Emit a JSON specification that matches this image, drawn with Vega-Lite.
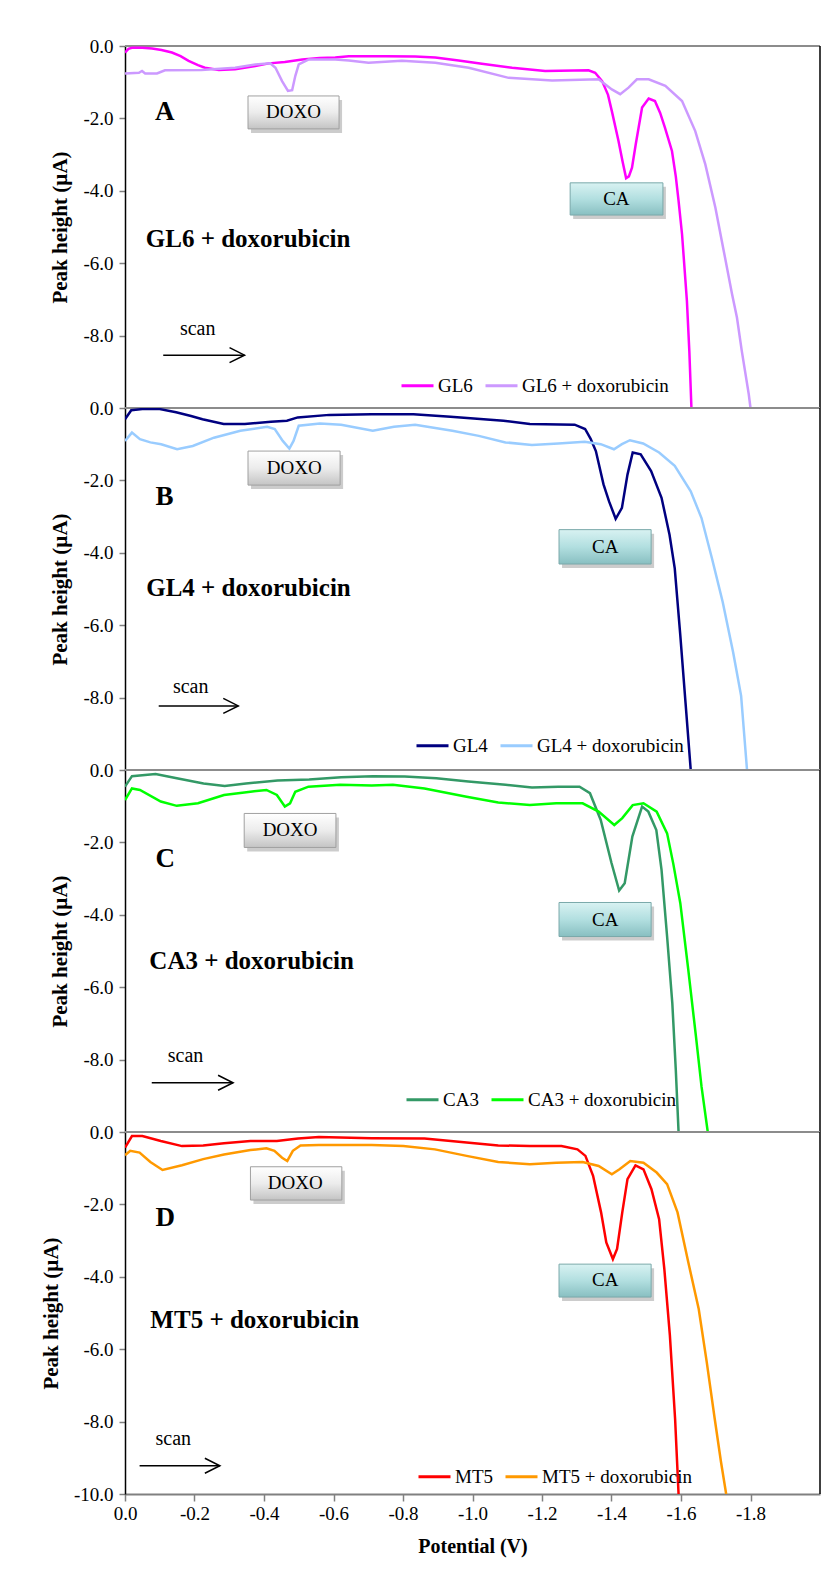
{
"$schema": "https://vega.github.io/schema/vega-lite/v6.json",
"background": "white",
"padding": {"left": 40, "top": 37, "right": 5, "bottom": 20},
"spacing": 0,
"bounds": "flush",
"config": {"font": "Liberation Serif", "view": {"stroke": null},
 "axis": {"labelFont": "Liberation Serif", "titleFont": "Liberation Serif", "labelFontSize": 19, "titleFontSize": 19, "labelColor": "black", "titleColor": "black", "titleFontWeight": "bold", "grid": false, "labelFlush": false},
 "legend": {"labelFont": "Liberation Serif", "labelFontSize": 19, "labelColor": "black"}},
"datasets": {
"frame": [{"p":"A","top":0,"right":-2},{"p":"B","top":0,"right":-2},{"p":"C","top":0,"right":-2},{"p":"D","top":0,"right":-2}],
"boxes": [
{"p":"A","label":"DOXO","x1":-0.354,"x2":-0.616,"y1":-1.38,"y2":-2.29,"xc":-0.485,"yc":-1.835},
{"p":"A","label":"CA","x1":-1.281,"x2":-1.548,"y1":-3.78,"y2":-4.67,"xc":-1.414,"yc":-4.225},
{"p":"B","label":"DOXO","x1":-0.354,"x2":-0.619,"y1":-1.19,"y2":-2.13,"xc":-0.487,"yc":-1.66},
{"p":"B","label":"CA","x1":-1.249,"x2":-1.514,"y1":-3.36,"y2":-4.31,"xc":-1.382,"yc":-3.835},
{"p":"C","label":"DOXO","x1":-0.343,"x2":-0.607,"y1":-1.2,"y2":-2.14,"xc":-0.475,"yc":-1.67},
{"p":"C","label":"CA","x1":-1.249,"x2":-1.514,"y1":-3.66,"y2":-4.6,"xc":-1.382,"yc":-4.13},
{"p":"D","label":"DOXO","x1":-0.361,"x2":-0.624,"y1":-0.96,"y2":-1.88,"xc":-0.49,"yc":-1.42},
{"p":"D","label":"CA","x1":-1.249,"x2":-1.514,"y1":-3.65,"y2":-4.56,"xc":-1.382,"yc":-4.1}
],
"texts": [
{"p":"A","role":"letter","t":"A","x":-0.086,"y":-2.04},
{"p":"A","role":"title","t":"GL6 + doxorubicin","x":-0.06,"y":-5.55},
{"p":"A","role":"scan","t":"scan","x":-0.158,"y":-7.98},
{"p":"B","role":"letter","t":"B","x":-0.088,"y":-2.67},
{"p":"B","role":"title","t":"GL4 + doxorubicin","x":-0.061,"y":-5.19},
{"p":"B","role":"scan","t":"scan","x":-0.138,"y":-7.88},
{"p":"C","role":"letter","t":"C","x":-0.088,"y":-2.67},
{"p":"C","role":"title","t":"CA3 + doxorubicin","x":-0.07,"y":-5.5},
{"p":"C","role":"scan","t":"scan","x":-0.123,"y":-8.07},
{"p":"D","role":"letter","t":"D","x":-0.088,"y":-2.59},
{"p":"D","role":"title","t":"MT5 + doxorubicin","x":-0.073,"y":-5.42},
{"p":"D","role":"scan","t":"scan","x":-0.088,"y":-8.65}
],
"arrows": [
{"p":"A","x1":-0.11,"x2":-0.344,"y":-8.54},
{"p":"B","x1":-0.097,"x2":-0.326,"y":-8.23},
{"p":"C","x1":-0.077,"x2":-0.311,"y":-8.64},
{"p":"D","x1":-0.042,"x2":-0.273,"y":-9.22}
],
"curves": [
{"p":"A","s":"GL6","v":0,"i":-0.18},{"p":"A","s":"GL6","v":-0.01,"i":-0.08},{"p":"A","s":"GL6","v":-0.02,"i":-0.05},{"p":"A","s":"GL6","v":-0.05,"i":-0.05},{"p":"A","s":"GL6","v":-0.078,"i":-0.07},{"p":"A","s":"GL6","v":-0.105,"i":-0.11},{"p":"A","s":"GL6","v":-0.135,"i":-0.18},{"p":"A","s":"GL6","v":-0.16,"i":-0.28},{"p":"A","s":"GL6","v":-0.183,"i":-0.41},{"p":"A","s":"GL6","v":-0.21,"i":-0.53},{"p":"A","s":"GL6","v":-0.23,"i":-0.6},{"p":"A","s":"GL6","v":-0.27,"i":-0.66},{"p":"A","s":"GL6","v":-0.317,"i":-0.64},{"p":"A","s":"GL6","v":-0.375,"i":-0.55},{"p":"A","s":"GL6","v":-0.414,"i":-0.48},{"p":"A","s":"GL6","v":-0.46,"i":-0.44},{"p":"A","s":"GL6","v":-0.51,"i":-0.37},{"p":"A","s":"GL6","v":-0.56,"i":-0.33},{"p":"A","s":"GL6","v":-0.605,"i":-0.32},{"p":"A","s":"GL6","v":-0.644,"i":-0.28},{"p":"A","s":"GL6","v":-0.75,"i":-0.28},{"p":"A","s":"GL6","v":-0.835,"i":-0.29},{"p":"A","s":"GL6","v":-0.893,"i":-0.32},{"p":"A","s":"GL6","v":-0.96,"i":-0.4},{"p":"A","s":"GL6","v":-1.027,"i":-0.49},{"p":"A","s":"GL6","v":-1.114,"i":-0.6},{"p":"A","s":"GL6","v":-1.209,"i":-0.69},{"p":"A","s":"GL6","v":-1.334,"i":-0.67},{"p":"A","s":"GL6","v":-1.353,"i":-0.74},{"p":"A","s":"GL6","v":-1.373,"i":-0.97},{"p":"A","s":"GL6","v":-1.39,"i":-1.35},{"p":"A","s":"GL6","v":-1.401,"i":-1.8},{"p":"A","s":"GL6","v":-1.42,"i":-2.62},{"p":"A","s":"GL6","v":-1.432,"i":-3.2},{"p":"A","s":"GL6","v":-1.442,"i":-3.65},{"p":"A","s":"GL6","v":-1.45,"i":-3.6},{"p":"A","s":"GL6","v":-1.459,"i":-3.36},{"p":"A","s":"GL6","v":-1.47,"i":-2.7},{"p":"A","s":"GL6","v":-1.488,"i":-1.7},{"p":"A","s":"GL6","v":-1.507,"i":-1.45},{"p":"A","s":"GL6","v":-1.525,"i":-1.52},{"p":"A","s":"GL6","v":-1.54,"i":-1.85},{"p":"A","s":"GL6","v":-1.554,"i":-2.26},{"p":"A","s":"GL6","v":-1.574,"i":-2.9},{"p":"A","s":"GL6","v":-1.585,"i":-3.6},{"p":"A","s":"GL6","v":-1.593,"i":-4.28},{"p":"A","s":"GL6","v":-1.603,"i":-5.2},{"p":"A","s":"GL6","v":-1.617,"i":-7.04},{"p":"A","s":"GL6","v":-1.624,"i":-8.43},{"p":"A","s":"GL6","v":-1.63,"i":-10.0},
{"p":"A","s":"GL6 + doxorubicin","v":0,"i":-0.76},{"p":"A","s":"GL6 + doxorubicin","v":-0.04,"i":-0.74},{"p":"A","s":"GL6 + doxorubicin","v":-0.049,"i":-0.69},{"p":"A","s":"GL6 + doxorubicin","v":-0.058,"i":-0.76},{"p":"A","s":"GL6 + doxorubicin","v":-0.092,"i":-0.76},{"p":"A","s":"GL6 + doxorubicin","v":-0.115,"i":-0.67},{"p":"A","s":"GL6 + doxorubicin","v":-0.22,"i":-0.66},{"p":"A","s":"GL6 + doxorubicin","v":-0.317,"i":-0.6},{"p":"A","s":"GL6 + doxorubicin","v":-0.375,"i":-0.51},{"p":"A","s":"GL6 + doxorubicin","v":-0.418,"i":-0.48},{"p":"A","s":"GL6 + doxorubicin","v":-0.433,"i":-0.6},{"p":"A","s":"GL6 + doxorubicin","v":-0.452,"i":-0.97},{"p":"A","s":"GL6 + doxorubicin","v":-0.469,"i":-1.24},{"p":"A","s":"GL6 + doxorubicin","v":-0.481,"i":-1.22},{"p":"A","s":"GL6 + doxorubicin","v":-0.49,"i":-0.83},{"p":"A","s":"GL6 + doxorubicin","v":-0.5,"i":-0.51},{"p":"A","s":"GL6 + doxorubicin","v":-0.529,"i":-0.37},{"p":"A","s":"GL6 + doxorubicin","v":-0.605,"i":-0.37},{"p":"A","s":"GL6 + doxorubicin","v":-0.644,"i":-0.4},{"p":"A","s":"GL6 + doxorubicin","v":-0.701,"i":-0.46},{"p":"A","s":"GL6 + doxorubicin","v":-0.797,"i":-0.41},{"p":"A","s":"GL6 + doxorubicin","v":-0.893,"i":-0.46},{"p":"A","s":"GL6 + doxorubicin","v":-0.989,"i":-0.6},{"p":"A","s":"GL6 + doxorubicin","v":-1.104,"i":-0.88},{"p":"A","s":"GL6 + doxorubicin","v":-1.229,"i":-0.95},{"p":"A","s":"GL6 + doxorubicin","v":-1.363,"i":-0.92},{"p":"A","s":"GL6 + doxorubicin","v":-1.401,"i":-1.2},{"p":"A","s":"GL6 + doxorubicin","v":-1.425,"i":-1.33},{"p":"A","s":"GL6 + doxorubicin","v":-1.449,"i":-1.15},{"p":"A","s":"GL6 + doxorubicin","v":-1.473,"i":-0.92},{"p":"A","s":"GL6 + doxorubicin","v":-1.507,"i":-0.92},{"p":"A","s":"GL6 + doxorubicin","v":-1.555,"i":-1.1},{"p":"A","s":"GL6 + doxorubicin","v":-1.603,"i":-1.52},{"p":"A","s":"GL6 + doxorubicin","v":-1.641,"i":-2.35},{"p":"A","s":"GL6 + doxorubicin","v":-1.67,"i":-3.27},{"p":"A","s":"GL6 + doxorubicin","v":-1.699,"i":-4.47},{"p":"A","s":"GL6 + doxorubicin","v":-1.723,"i":-5.66},{"p":"A","s":"GL6 + doxorubicin","v":-1.747,"i":-6.86},{"p":"A","s":"GL6 + doxorubicin","v":-1.761,"i":-7.5},{"p":"A","s":"GL6 + doxorubicin","v":-1.775,"i":-8.43},{"p":"A","s":"GL6 + doxorubicin","v":-1.795,"i":-9.62},{"p":"A","s":"GL6 + doxorubicin","v":-1.8,"i":-10.0},
{"p":"B","s":"GL4","v":0,"i":-0.31},{"p":"B","s":"GL4","v":-0.018,"i":-0.06},{"p":"B","s":"GL4","v":-0.05,"i":-0.03},{"p":"B","s":"GL4","v":-0.1,"i":-0.03},{"p":"B","s":"GL4","v":-0.147,"i":-0.12},{"p":"B","s":"GL4","v":-0.19,"i":-0.22},{"p":"B","s":"GL4","v":-0.223,"i":-0.31},{"p":"B","s":"GL4","v":-0.284,"i":-0.44},{"p":"B","s":"GL4","v":-0.345,"i":-0.44},{"p":"B","s":"GL4","v":-0.42,"i":-0.38},{"p":"B","s":"GL4","v":-0.466,"i":-0.35},{"p":"B","s":"GL4","v":-0.497,"i":-0.26},{"p":"B","s":"GL4","v":-0.588,"i":-0.19},{"p":"B","s":"GL4","v":-0.709,"i":-0.17},{"p":"B","s":"GL4","v":-0.83,"i":-0.17},{"p":"B","s":"GL4","v":-0.937,"i":-0.24},{"p":"B","s":"GL4","v":-1.089,"i":-0.35},{"p":"B","s":"GL4","v":-1.165,"i":-0.44},{"p":"B","s":"GL4","v":-1.294,"i":-0.46},{"p":"B","s":"GL4","v":-1.324,"i":-0.58},{"p":"B","s":"GL4","v":-1.34,"i":-0.85},{"p":"B","s":"GL4","v":-1.355,"i":-1.19},{"p":"B","s":"GL4","v":-1.377,"i":-2.11},{"p":"B","s":"GL4","v":-1.393,"i":-2.58},{"p":"B","s":"GL4","v":-1.412,"i":-3.06},{"p":"B","s":"GL4","v":-1.43,"i":-2.76},{"p":"B","s":"GL4","v":-1.446,"i":-1.84},{"p":"B","s":"GL4","v":-1.461,"i":-1.23},{"p":"B","s":"GL4","v":-1.484,"i":-1.28},{"p":"B","s":"GL4","v":-1.514,"i":-1.74},{"p":"B","s":"GL4","v":-1.544,"i":-2.48},{"p":"B","s":"GL4","v":-1.567,"i":-3.5},{"p":"B","s":"GL4","v":-1.582,"i":-4.43},{"p":"B","s":"GL4","v":-1.598,"i":-6.28},{"p":"B","s":"GL4","v":-1.613,"i":-8.14},{"p":"B","s":"GL4","v":-1.628,"i":-10.0},
{"p":"B","s":"GL4 + doxorubicin","v":0,"i":-0.91},{"p":"B","s":"GL4 + doxorubicin","v":-0.02,"i":-0.68},{"p":"B","s":"GL4 + doxorubicin","v":-0.043,"i":-0.86},{"p":"B","s":"GL4 + doxorubicin","v":-0.073,"i":-0.95},{"p":"B","s":"GL4 + doxorubicin","v":-0.104,"i":-1.0},{"p":"B","s":"GL4 + doxorubicin","v":-0.15,"i":-1.14},{"p":"B","s":"GL4 + doxorubicin","v":-0.195,"i":-1.05},{"p":"B","s":"GL4 + doxorubicin","v":-0.256,"i":-0.82},{"p":"B","s":"GL4 + doxorubicin","v":-0.332,"i":-0.63},{"p":"B","s":"GL4 + doxorubicin","v":-0.409,"i":-0.52},{"p":"B","s":"GL4 + doxorubicin","v":-0.431,"i":-0.58},{"p":"B","s":"GL4 + doxorubicin","v":-0.454,"i":-0.91},{"p":"B","s":"GL4 + doxorubicin","v":-0.473,"i":-1.12},{"p":"B","s":"GL4 + doxorubicin","v":-0.485,"i":-0.91},{"p":"B","s":"GL4 + doxorubicin","v":-0.5,"i":-0.49},{"p":"B","s":"GL4 + doxorubicin","v":-0.561,"i":-0.43},{"p":"B","s":"GL4 + doxorubicin","v":-0.622,"i":-0.46},{"p":"B","s":"GL4 + doxorubicin","v":-0.713,"i":-0.63},{"p":"B","s":"GL4 + doxorubicin","v":-0.774,"i":-0.52},{"p":"B","s":"GL4 + doxorubicin","v":-0.835,"i":-0.46},{"p":"B","s":"GL4 + doxorubicin","v":-0.942,"i":-0.63},{"p":"B","s":"GL4 + doxorubicin","v":-1.018,"i":-0.77},{"p":"B","s":"GL4 + doxorubicin","v":-1.095,"i":-0.95},{"p":"B","s":"GL4 + doxorubicin","v":-1.171,"i":-1.02},{"p":"B","s":"GL4 + doxorubicin","v":-1.247,"i":-0.98},{"p":"B","s":"GL4 + doxorubicin","v":-1.323,"i":-0.93},{"p":"B","s":"GL4 + doxorubicin","v":-1.369,"i":-1.0},{"p":"B","s":"GL4 + doxorubicin","v":-1.407,"i":-1.14},{"p":"B","s":"GL4 + doxorubicin","v":-1.43,"i":-1.0},{"p":"B","s":"GL4 + doxorubicin","v":-1.453,"i":-0.89},{"p":"B","s":"GL4 + doxorubicin","v":-1.491,"i":-0.98},{"p":"B","s":"GL4 + doxorubicin","v":-1.537,"i":-1.23},{"p":"B","s":"GL4 + doxorubicin","v":-1.582,"i":-1.6},{"p":"B","s":"GL4 + doxorubicin","v":-1.628,"i":-2.3},{"p":"B","s":"GL4 + doxorubicin","v":-1.659,"i":-3.04},{"p":"B","s":"GL4 + doxorubicin","v":-1.689,"i":-4.15},{"p":"B","s":"GL4 + doxorubicin","v":-1.72,"i":-5.36},{"p":"B","s":"GL4 + doxorubicin","v":-1.75,"i":-6.75},{"p":"B","s":"GL4 + doxorubicin","v":-1.773,"i":-7.95},{"p":"B","s":"GL4 + doxorubicin","v":-1.79,"i":-10.0},
{"p":"C","s":"CA3","v":0,"i":-0.46},{"p":"C","s":"CA3","v":-0.02,"i":-0.17},{"p":"C","s":"CA3","v":-0.088,"i":-0.11},{"p":"C","s":"CA3","v":-0.149,"i":-0.23},{"p":"C","s":"CA3","v":-0.226,"i":-0.37},{"p":"C","s":"CA3","v":-0.287,"i":-0.44},{"p":"C","s":"CA3","v":-0.348,"i":-0.37},{"p":"C","s":"CA3","v":-0.439,"i":-0.29},{"p":"C","s":"CA3","v":-0.53,"i":-0.26},{"p":"C","s":"CA3","v":-0.622,"i":-0.2},{"p":"C","s":"CA3","v":-0.713,"i":-0.17},{"p":"C","s":"CA3","v":-0.805,"i":-0.18},{"p":"C","s":"CA3","v":-0.896,"i":-0.23},{"p":"C","s":"CA3","v":-0.988,"i":-0.32},{"p":"C","s":"CA3","v":-1.095,"i":-0.41},{"p":"C","s":"CA3","v":-1.171,"i":-0.48},{"p":"C","s":"CA3","v":-1.247,"i":-0.46},{"p":"C","s":"CA3","v":-1.308,"i":-0.46},{"p":"C","s":"CA3","v":-1.338,"i":-0.64},{"p":"C","s":"CA3","v":-1.369,"i":-1.38},{"p":"C","s":"CA3","v":-1.4,"i":-2.57},{"p":"C","s":"CA3","v":-1.422,"i":-3.33},{"p":"C","s":"CA3","v":-1.438,"i":-3.13},{"p":"C","s":"CA3","v":-1.46,"i":-1.84},{"p":"C","s":"CA3","v":-1.488,"i":-1.01},{"p":"C","s":"CA3","v":-1.506,"i":-1.15},{"p":"C","s":"CA3","v":-1.529,"i":-1.66},{"p":"C","s":"CA3","v":-1.544,"i":-2.76},{"p":"C","s":"CA3","v":-1.56,"i":-4.6},{"p":"C","s":"CA3","v":-1.575,"i":-6.44},{"p":"C","s":"CA3","v":-1.585,"i":-8.28},{"p":"C","s":"CA3","v":-1.593,"i":-10.0},
{"p":"C","s":"CA3 + doxorubicin","v":0,"i":-0.83},{"p":"C","s":"CA3 + doxorubicin","v":-0.02,"i":-0.51},{"p":"C","s":"CA3 + doxorubicin","v":-0.043,"i":-0.55},{"p":"C","s":"CA3 + doxorubicin","v":-0.103,"i":-0.87},{"p":"C","s":"CA3 + doxorubicin","v":-0.149,"i":-0.99},{"p":"C","s":"CA3 + doxorubicin","v":-0.21,"i":-0.92},{"p":"C","s":"CA3 + doxorubicin","v":-0.285,"i":-0.69},{"p":"C","s":"CA3 + doxorubicin","v":-0.361,"i":-0.6},{"p":"C","s":"CA3 + doxorubicin","v":-0.407,"i":-0.55},{"p":"C","s":"CA3 + doxorubicin","v":-0.437,"i":-0.69},{"p":"C","s":"CA3 + doxorubicin","v":-0.46,"i":-1.01},{"p":"C","s":"CA3 + doxorubicin","v":-0.475,"i":-0.92},{"p":"C","s":"CA3 + doxorubicin","v":-0.49,"i":-0.6},{"p":"C","s":"CA3 + doxorubicin","v":-0.528,"i":-0.46},{"p":"C","s":"CA3 + doxorubicin","v":-0.619,"i":-0.41},{"p":"C","s":"CA3 + doxorubicin","v":-0.71,"i":-0.43},{"p":"C","s":"CA3 + doxorubicin","v":-0.771,"i":-0.41},{"p":"C","s":"CA3 + doxorubicin","v":-0.862,"i":-0.51},{"p":"C","s":"CA3 + doxorubicin","v":-0.983,"i":-0.74},{"p":"C","s":"CA3 + doxorubicin","v":-1.074,"i":-0.9},{"p":"C","s":"CA3 + doxorubicin","v":-1.165,"i":-0.97},{"p":"C","s":"CA3 + doxorubicin","v":-1.241,"i":-0.92},{"p":"C","s":"CA3 + doxorubicin","v":-1.317,"i":-0.92},{"p":"C","s":"CA3 + doxorubicin","v":-1.363,"i":-1.15},{"p":"C","s":"CA3 + doxorubicin","v":-1.408,"i":-1.52},{"p":"C","s":"CA3 + doxorubicin","v":-1.431,"i":-1.33},{"p":"C","s":"CA3 + doxorubicin","v":-1.461,"i":-0.97},{"p":"C","s":"CA3 + doxorubicin","v":-1.492,"i":-0.92},{"p":"C","s":"CA3 + doxorubicin","v":-1.53,"i":-1.15},{"p":"C","s":"CA3 + doxorubicin","v":-1.56,"i":-1.75},{"p":"C","s":"CA3 + doxorubicin","v":-1.578,"i":-2.6},{"p":"C","s":"CA3 + doxorubicin","v":-1.598,"i":-3.68},{"p":"C","s":"CA3 + doxorubicin","v":-1.621,"i":-5.52},{"p":"C","s":"CA3 + doxorubicin","v":-1.643,"i":-7.36},{"p":"C","s":"CA3 + doxorubicin","v":-1.659,"i":-8.74},{"p":"C","s":"CA3 + doxorubicin","v":-1.677,"i":-10.0},
{"p":"D","s":"MT5","v":0,"i":-0.43},{"p":"D","s":"MT5","v":-0.02,"i":-0.11},{"p":"D","s":"MT5","v":-0.05,"i":-0.11},{"p":"D","s":"MT5","v":-0.103,"i":-0.25},{"p":"D","s":"MT5","v":-0.164,"i":-0.39},{"p":"D","s":"MT5","v":-0.225,"i":-0.37},{"p":"D","s":"MT5","v":-0.285,"i":-0.31},{"p":"D","s":"MT5","v":-0.361,"i":-0.25},{"p":"D","s":"MT5","v":-0.437,"i":-0.25},{"p":"D","s":"MT5","v":-0.498,"i":-0.18},{"p":"D","s":"MT5","v":-0.558,"i":-0.14},{"p":"D","s":"MT5","v":-0.71,"i":-0.17},{"p":"D","s":"MT5","v":-0.862,"i":-0.18},{"p":"D","s":"MT5","v":-0.983,"i":-0.29},{"p":"D","s":"MT5","v":-1.074,"i":-0.37},{"p":"D","s":"MT5","v":-1.165,"i":-0.39},{"p":"D","s":"MT5","v":-1.256,"i":-0.39},{"p":"D","s":"MT5","v":-1.302,"i":-0.48},{"p":"D","s":"MT5","v":-1.325,"i":-0.66},{"p":"D","s":"MT5","v":-1.347,"i":-1.21},{"p":"D","s":"MT5","v":-1.37,"i":-2.22},{"p":"D","s":"MT5","v":-1.385,"i":-3.05},{"p":"D","s":"MT5","v":-1.404,"i":-3.51},{"p":"D","s":"MT5","v":-1.416,"i":-3.23},{"p":"D","s":"MT5","v":-1.431,"i":-2.22},{"p":"D","s":"MT5","v":-1.446,"i":-1.3},{"p":"D","s":"MT5","v":-1.469,"i":-0.92},{"p":"D","s":"MT5","v":-1.492,"i":-1.03},{"p":"D","s":"MT5","v":-1.515,"i":-1.58},{"p":"D","s":"MT5","v":-1.537,"i":-2.41},{"p":"D","s":"MT5","v":-1.552,"i":-3.78},{"p":"D","s":"MT5","v":-1.568,"i":-5.62},{"p":"D","s":"MT5","v":-1.583,"i":-7.92},{"p":"D","s":"MT5","v":-1.593,"i":-10.0},
{"p":"D","s":"MT5 + doxorubicin","v":0,"i":-0.64},{"p":"D","s":"MT5 + doxorubicin","v":-0.015,"i":-0.52},{"p":"D","s":"MT5 + doxorubicin","v":-0.042,"i":-0.57},{"p":"D","s":"MT5 + doxorubicin","v":-0.073,"i":-0.83},{"p":"D","s":"MT5 + doxorubicin","v":-0.108,"i":-1.05},{"p":"D","s":"MT5 + doxorubicin","v":-0.164,"i":-0.92},{"p":"D","s":"MT5 + doxorubicin","v":-0.225,"i":-0.75},{"p":"D","s":"MT5 + doxorubicin","v":-0.285,"i":-0.62},{"p":"D","s":"MT5 + doxorubicin","v":-0.361,"i":-0.5},{"p":"D","s":"MT5 + doxorubicin","v":-0.407,"i":-0.45},{"p":"D","s":"MT5 + doxorubicin","v":-0.43,"i":-0.52},{"p":"D","s":"MT5 + doxorubicin","v":-0.452,"i":-0.71},{"p":"D","s":"MT5 + doxorubicin","v":-0.467,"i":-0.8},{"p":"D","s":"MT5 + doxorubicin","v":-0.483,"i":-0.52},{"p":"D","s":"MT5 + doxorubicin","v":-0.505,"i":-0.37},{"p":"D","s":"MT5 + doxorubicin","v":-0.558,"i":-0.36},{"p":"D","s":"MT5 + doxorubicin","v":-0.71,"i":-0.36},{"p":"D","s":"MT5 + doxorubicin","v":-0.801,"i":-0.39},{"p":"D","s":"MT5 + doxorubicin","v":-0.892,"i":-0.48},{"p":"D","s":"MT5 + doxorubicin","v":-0.983,"i":-0.66},{"p":"D","s":"MT5 + doxorubicin","v":-1.074,"i":-0.83},{"p":"D","s":"MT5 + doxorubicin","v":-1.165,"i":-0.89},{"p":"D","s":"MT5 + doxorubicin","v":-1.241,"i":-0.85},{"p":"D","s":"MT5 + doxorubicin","v":-1.317,"i":-0.83},{"p":"D","s":"MT5 + doxorubicin","v":-1.363,"i":-0.94},{"p":"D","s":"MT5 + doxorubicin","v":-1.401,"i":-1.17},{"p":"D","s":"MT5 + doxorubicin","v":-1.423,"i":-1.03},{"p":"D","s":"MT5 + doxorubicin","v":-1.454,"i":-0.8},{"p":"D","s":"MT5 + doxorubicin","v":-1.492,"i":-0.85},{"p":"D","s":"MT5 + doxorubicin","v":-1.53,"i":-1.12},{"p":"D","s":"MT5 + doxorubicin","v":-1.56,"i":-1.44},{"p":"D","s":"MT5 + doxorubicin","v":-1.59,"i":-2.22},{"p":"D","s":"MT5 + doxorubicin","v":-1.621,"i":-3.6},{"p":"D","s":"MT5 + doxorubicin","v":-1.651,"i":-4.89},{"p":"D","s":"MT5 + doxorubicin","v":-1.674,"i":-6.35},{"p":"D","s":"MT5 + doxorubicin","v":-1.697,"i":-7.92},{"p":"D","s":"MT5 + doxorubicin","v":-1.715,"i":-9.11},{"p":"D","s":"MT5 + doxorubicin","v":-1.73,"i":-10.0}
]
},
"resolve": {"scale": {"color": "independent"}, "legend": {"color": "independent"}},
"vconcat": [
{"width": 695, "height": 362, "layer": [
 {"data": {"name": "frame"}, "transform": [{"filter": "datum.p == 'A'"}], "mark": {"type": "rule", "color": "#8c8c8c", "strokeWidth": 2}, "encoding": {"y": {"field": "top", "type": "quantitative", "scale": {"domain": [-10, 0], "nice": false, "zero": false}}}},
 {"data": {"name": "frame"}, "transform": [{"filter": "datum.p == 'A'"}], "mark": {"type": "rule", "color": "#000000", "strokeWidth": 1.5}, "encoding": {"x": {"field": "right", "type": "quantitative", "scale": {"domain": [0, -2], "nice": false, "zero": false}}}},
 {"data": {"name": "boxes"}, "transform": [{"filter": "datum.p == 'A'"}], "mark": {"type": "rect", "fill": "#000000", "opacity": 0.2, "xOffset": 3, "x2Offset": 3, "yOffset": 4, "y2Offset": 4}, "encoding": {"x": {"field": "x1", "type": "quantitative", "scale": {"domain": [0, -2], "nice": false, "zero": false}}, "x2": {"field": "x2"}, "y": {"field": "y1", "type": "quantitative", "scale": {"domain": [-10, 0], "nice": false, "zero": false}}, "y2": {"field": "y2"}}},
 {"data": {"name": "boxes"}, "transform": [{"filter": "datum.p == 'A' && datum.label == 'DOXO'"}], "mark": {"type": "rect", "fill": {"gradient": "linear", "x1": 0, "y1": 0, "x2": 0, "y2": 1, "stops": [{"offset": 0, "color": "#ffffff"}, {"offset": 0.5, "color": "#ececec"}, {"offset": 1, "color": "#c4c4c4"}]}, "stroke": "#a0a0a0", "strokeWidth": 1}, "encoding": {"x": {"field": "x1", "type": "quantitative", "scale": {"domain": [0, -2], "nice": false, "zero": false}}, "x2": {"field": "x2"}, "y": {"field": "y1", "type": "quantitative", "scale": {"domain": [-10, 0], "nice": false, "zero": false}}, "y2": {"field": "y2"}}},
 {"data": {"name": "boxes"}, "transform": [{"filter": "datum.p == 'A' && datum.label == 'CA'"}], "mark": {"type": "rect", "fill": {"gradient": "linear", "x1": 0, "y1": 0, "x2": 0, "y2": 1, "stops": [{"offset": 0, "color": "#d8f2f2"}, {"offset": 0.5, "color": "#b2dfe0"}, {"offset": 1, "color": "#88bfc1"}]}, "stroke": "#7aa9aa", "strokeWidth": 1}, "encoding": {"x": {"field": "x1", "type": "quantitative", "scale": {"domain": [0, -2], "nice": false, "zero": false}}, "x2": {"field": "x2"}, "y": {"field": "y1", "type": "quantitative", "scale": {"domain": [-10, 0], "nice": false, "zero": false}}, "y2": {"field": "y2"}}},
 {"data": {"name": "boxes"}, "transform": [{"filter": "datum.p == 'A'"}], "mark": {"type": "text", "fontSize": 19, "align": "center", "baseline": "middle", "fill": "black"}, "encoding": {"x": {"field": "xc", "type": "quantitative", "scale": {"domain": [0, -2], "nice": false, "zero": false}}, "y": {"field": "yc", "type": "quantitative", "scale": {"domain": [-10, 0], "nice": false, "zero": false}}, "text": {"field": "label"}}},
 {"data": {"name": "texts"}, "transform": [{"filter": "datum.p == 'A' && datum.role == 'letter'"}], "mark": {"type": "text", "fontSize": 27, "fontWeight": "bold", "align": "left", "baseline": "alphabetic", "fill": "black"}, "encoding": {"x": {"field": "x", "type": "quantitative", "scale": {"domain": [0, -2], "nice": false, "zero": false}}, "y": {"field": "y", "type": "quantitative", "scale": {"domain": [-10, 0], "nice": false, "zero": false}}, "text": {"field": "t"}}},
 {"data": {"name": "texts"}, "transform": [{"filter": "datum.p == 'A' && datum.role == 'title'"}], "mark": {"type": "text", "fontSize": 25, "fontWeight": "bold", "align": "left", "baseline": "alphabetic", "fill": "black"}, "encoding": {"x": {"field": "x", "type": "quantitative", "scale": {"domain": [0, -2], "nice": false, "zero": false}}, "y": {"field": "y", "type": "quantitative", "scale": {"domain": [-10, 0], "nice": false, "zero": false}}, "text": {"field": "t"}}},
 {"data": {"name": "texts"}, "transform": [{"filter": "datum.p == 'A' && datum.role == 'scan'"}], "mark": {"type": "text", "fontSize": 20, "align": "left", "baseline": "alphabetic", "fill": "black"}, "encoding": {"x": {"field": "x", "type": "quantitative", "scale": {"domain": [0, -2], "nice": false, "zero": false}}, "y": {"field": "y", "type": "quantitative", "scale": {"domain": [-10, 0], "nice": false, "zero": false}}, "text": {"field": "t"}}},
 {"data": {"name": "arrows"}, "transform": [{"filter": "datum.p == 'A'"}], "mark": {"type": "rule", "color": "black", "strokeWidth": 1.5}, "encoding": {"x": {"field": "x1", "type": "quantitative", "scale": {"domain": [0, -2], "nice": false, "zero": false}}, "x2": {"field": "x2"}, "y": {"field": "y", "type": "quantitative", "scale": {"domain": [-10, 0], "nice": false, "zero": false}}}},
 {"data": {"name": "arrows"}, "transform": [{"filter": "datum.p == 'A'"}], "mark": {"type": "point", "shape": "M-1,-0.5L0,0L-1,0.5", "size": 900, "filled": false, "stroke": "black", "strokeWidth": 1.5, "opacity": 1}, "encoding": {"x": {"field": "x2", "type": "quantitative", "scale": {"domain": [0, -2], "nice": false, "zero": false}}, "y": {"field": "y", "type": "quantitative", "scale": {"domain": [-10, 0], "nice": false, "zero": false}}}},
 {"data": {"name": "curves"}, "transform": [{"filter": "datum.p == 'A'"}], "mark": {"type": "line", "strokeWidth": 2.5, "clip": true},
  "encoding": {"x": {"field": "v", "type": "quantitative", "scale": {"domain": [0, -2], "nice": false, "zero": false}, "axis": {"title": null, "labels": false, "ticks": false, "domain": false, "orient": "top"}},
   "y": {"field": "i", "type": "quantitative", "scale": {"domain": [-10, 0], "nice": false, "zero": false}, "axis": {"title": "Peak height (µA)", "titleFontSize": 21, "values": [0, -2, -4, -6, -8], "labelExpr": "(datum.value < 0 ? '-' : '') + format(abs(datum.value), '.1f')", "tickSize": 6, "tickColor": "#808080", "tickWidth": 1.5, "domainColor": "#000000", "domainWidth": 1.5, "labelPadding": 6, "titlePadding": 12}},
   "color": {"field": "s", "type": "nominal", "scale": {"domain": ["GL6", "GL6 + doxorubicin"], "range": ["#ff00ff", "#cc99ff"]}, "legend": {"title": null, "orient": "none", "legendX": 275, "legendY": 322, "direction": "horizontal", "symbolType": "stroke", "symbolSize": 1024, "symbolStrokeWidth": 3, "columnPadding": 6, "labelOffset": 3}}}}
]},
{"width": 695, "height": 362, "layer": [
 {"data": {"name": "frame"}, "transform": [{"filter": "datum.p == 'B'"}], "mark": {"type": "rule", "color": "#8c8c8c", "strokeWidth": 2}, "encoding": {"y": {"field": "top", "type": "quantitative", "scale": {"domain": [-10, 0], "nice": false, "zero": false}}}},
 {"data": {"name": "frame"}, "transform": [{"filter": "datum.p == 'B'"}], "mark": {"type": "rule", "color": "#000000", "strokeWidth": 1.5}, "encoding": {"x": {"field": "right", "type": "quantitative", "scale": {"domain": [0, -2], "nice": false, "zero": false}}}},
 {"data": {"name": "boxes"}, "transform": [{"filter": "datum.p == 'B'"}], "mark": {"type": "rect", "fill": "#000000", "opacity": 0.2, "xOffset": 3, "x2Offset": 3, "yOffset": 4, "y2Offset": 4}, "encoding": {"x": {"field": "x1", "type": "quantitative", "scale": {"domain": [0, -2], "nice": false, "zero": false}}, "x2": {"field": "x2"}, "y": {"field": "y1", "type": "quantitative", "scale": {"domain": [-10, 0], "nice": false, "zero": false}}, "y2": {"field": "y2"}}},
 {"data": {"name": "boxes"}, "transform": [{"filter": "datum.p == 'B' && datum.label == 'DOXO'"}], "mark": {"type": "rect", "fill": {"gradient": "linear", "x1": 0, "y1": 0, "x2": 0, "y2": 1, "stops": [{"offset": 0, "color": "#ffffff"}, {"offset": 0.5, "color": "#ececec"}, {"offset": 1, "color": "#c4c4c4"}]}, "stroke": "#a0a0a0", "strokeWidth": 1}, "encoding": {"x": {"field": "x1", "type": "quantitative", "scale": {"domain": [0, -2], "nice": false, "zero": false}}, "x2": {"field": "x2"}, "y": {"field": "y1", "type": "quantitative", "scale": {"domain": [-10, 0], "nice": false, "zero": false}}, "y2": {"field": "y2"}}},
 {"data": {"name": "boxes"}, "transform": [{"filter": "datum.p == 'B' && datum.label == 'CA'"}], "mark": {"type": "rect", "fill": {"gradient": "linear", "x1": 0, "y1": 0, "x2": 0, "y2": 1, "stops": [{"offset": 0, "color": "#d8f2f2"}, {"offset": 0.5, "color": "#b2dfe0"}, {"offset": 1, "color": "#88bfc1"}]}, "stroke": "#7aa9aa", "strokeWidth": 1}, "encoding": {"x": {"field": "x1", "type": "quantitative", "scale": {"domain": [0, -2], "nice": false, "zero": false}}, "x2": {"field": "x2"}, "y": {"field": "y1", "type": "quantitative", "scale": {"domain": [-10, 0], "nice": false, "zero": false}}, "y2": {"field": "y2"}}},
 {"data": {"name": "boxes"}, "transform": [{"filter": "datum.p == 'B'"}], "mark": {"type": "text", "fontSize": 19, "align": "center", "baseline": "middle", "fill": "black"}, "encoding": {"x": {"field": "xc", "type": "quantitative", "scale": {"domain": [0, -2], "nice": false, "zero": false}}, "y": {"field": "yc", "type": "quantitative", "scale": {"domain": [-10, 0], "nice": false, "zero": false}}, "text": {"field": "label"}}},
 {"data": {"name": "texts"}, "transform": [{"filter": "datum.p == 'B' && datum.role == 'letter'"}], "mark": {"type": "text", "fontSize": 27, "fontWeight": "bold", "align": "left", "baseline": "alphabetic", "fill": "black"}, "encoding": {"x": {"field": "x", "type": "quantitative", "scale": {"domain": [0, -2], "nice": false, "zero": false}}, "y": {"field": "y", "type": "quantitative", "scale": {"domain": [-10, 0], "nice": false, "zero": false}}, "text": {"field": "t"}}},
 {"data": {"name": "texts"}, "transform": [{"filter": "datum.p == 'B' && datum.role == 'title'"}], "mark": {"type": "text", "fontSize": 25, "fontWeight": "bold", "align": "left", "baseline": "alphabetic", "fill": "black"}, "encoding": {"x": {"field": "x", "type": "quantitative", "scale": {"domain": [0, -2], "nice": false, "zero": false}}, "y": {"field": "y", "type": "quantitative", "scale": {"domain": [-10, 0], "nice": false, "zero": false}}, "text": {"field": "t"}}},
 {"data": {"name": "texts"}, "transform": [{"filter": "datum.p == 'B' && datum.role == 'scan'"}], "mark": {"type": "text", "fontSize": 20, "align": "left", "baseline": "alphabetic", "fill": "black"}, "encoding": {"x": {"field": "x", "type": "quantitative", "scale": {"domain": [0, -2], "nice": false, "zero": false}}, "y": {"field": "y", "type": "quantitative", "scale": {"domain": [-10, 0], "nice": false, "zero": false}}, "text": {"field": "t"}}},
 {"data": {"name": "arrows"}, "transform": [{"filter": "datum.p == 'B'"}], "mark": {"type": "rule", "color": "black", "strokeWidth": 1.5}, "encoding": {"x": {"field": "x1", "type": "quantitative", "scale": {"domain": [0, -2], "nice": false, "zero": false}}, "x2": {"field": "x2"}, "y": {"field": "y", "type": "quantitative", "scale": {"domain": [-10, 0], "nice": false, "zero": false}}}},
 {"data": {"name": "arrows"}, "transform": [{"filter": "datum.p == 'B'"}], "mark": {"type": "point", "shape": "M-1,-0.5L0,0L-1,0.5", "size": 900, "filled": false, "stroke": "black", "strokeWidth": 1.5, "opacity": 1}, "encoding": {"x": {"field": "x2", "type": "quantitative", "scale": {"domain": [0, -2], "nice": false, "zero": false}}, "y": {"field": "y", "type": "quantitative", "scale": {"domain": [-10, 0], "nice": false, "zero": false}}}},
 {"data": {"name": "curves"}, "transform": [{"filter": "datum.p == 'B'"}], "mark": {"type": "line", "strokeWidth": 2.5, "clip": true},
  "encoding": {"x": {"field": "v", "type": "quantitative", "scale": {"domain": [0, -2], "nice": false, "zero": false}, "axis": {"title": null, "labels": false, "ticks": false, "domain": false, "orient": "top"}},
   "y": {"field": "i", "type": "quantitative", "scale": {"domain": [-10, 0], "nice": false, "zero": false}, "axis": {"title": "Peak height (µA)", "titleFontSize": 21, "values": [0, -2, -4, -6, -8], "labelExpr": "(datum.value < 0 ? '-' : '') + format(abs(datum.value), '.1f')", "tickSize": 6, "tickColor": "#808080", "tickWidth": 1.5, "domainColor": "#000000", "domainWidth": 1.5, "labelPadding": 6, "titlePadding": 12}},
   "color": {"field": "s", "type": "nominal", "scale": {"domain": ["GL4", "GL4 + doxorubicin"], "range": ["#000080", "#99ccff"]}, "legend": {"title": null, "orient": "none", "legendX": 290, "legendY": 320, "direction": "horizontal", "symbolType": "stroke", "symbolSize": 1024, "symbolStrokeWidth": 3, "columnPadding": 6, "labelOffset": 3}}}}
]},
{"width": 695, "height": 362, "layer": [
 {"data": {"name": "frame"}, "transform": [{"filter": "datum.p == 'C'"}], "mark": {"type": "rule", "color": "#8c8c8c", "strokeWidth": 2}, "encoding": {"y": {"field": "top", "type": "quantitative", "scale": {"domain": [-10, 0], "nice": false, "zero": false}}}},
 {"data": {"name": "frame"}, "transform": [{"filter": "datum.p == 'C'"}], "mark": {"type": "rule", "color": "#000000", "strokeWidth": 1.5}, "encoding": {"x": {"field": "right", "type": "quantitative", "scale": {"domain": [0, -2], "nice": false, "zero": false}}}},
 {"data": {"name": "boxes"}, "transform": [{"filter": "datum.p == 'C'"}], "mark": {"type": "rect", "fill": "#000000", "opacity": 0.2, "xOffset": 3, "x2Offset": 3, "yOffset": 4, "y2Offset": 4}, "encoding": {"x": {"field": "x1", "type": "quantitative", "scale": {"domain": [0, -2], "nice": false, "zero": false}}, "x2": {"field": "x2"}, "y": {"field": "y1", "type": "quantitative", "scale": {"domain": [-10, 0], "nice": false, "zero": false}}, "y2": {"field": "y2"}}},
 {"data": {"name": "boxes"}, "transform": [{"filter": "datum.p == 'C' && datum.label == 'DOXO'"}], "mark": {"type": "rect", "fill": {"gradient": "linear", "x1": 0, "y1": 0, "x2": 0, "y2": 1, "stops": [{"offset": 0, "color": "#ffffff"}, {"offset": 0.5, "color": "#ececec"}, {"offset": 1, "color": "#c4c4c4"}]}, "stroke": "#a0a0a0", "strokeWidth": 1}, "encoding": {"x": {"field": "x1", "type": "quantitative", "scale": {"domain": [0, -2], "nice": false, "zero": false}}, "x2": {"field": "x2"}, "y": {"field": "y1", "type": "quantitative", "scale": {"domain": [-10, 0], "nice": false, "zero": false}}, "y2": {"field": "y2"}}},
 {"data": {"name": "boxes"}, "transform": [{"filter": "datum.p == 'C' && datum.label == 'CA'"}], "mark": {"type": "rect", "fill": {"gradient": "linear", "x1": 0, "y1": 0, "x2": 0, "y2": 1, "stops": [{"offset": 0, "color": "#d8f2f2"}, {"offset": 0.5, "color": "#b2dfe0"}, {"offset": 1, "color": "#88bfc1"}]}, "stroke": "#7aa9aa", "strokeWidth": 1}, "encoding": {"x": {"field": "x1", "type": "quantitative", "scale": {"domain": [0, -2], "nice": false, "zero": false}}, "x2": {"field": "x2"}, "y": {"field": "y1", "type": "quantitative", "scale": {"domain": [-10, 0], "nice": false, "zero": false}}, "y2": {"field": "y2"}}},
 {"data": {"name": "boxes"}, "transform": [{"filter": "datum.p == 'C'"}], "mark": {"type": "text", "fontSize": 19, "align": "center", "baseline": "middle", "fill": "black"}, "encoding": {"x": {"field": "xc", "type": "quantitative", "scale": {"domain": [0, -2], "nice": false, "zero": false}}, "y": {"field": "yc", "type": "quantitative", "scale": {"domain": [-10, 0], "nice": false, "zero": false}}, "text": {"field": "label"}}},
 {"data": {"name": "texts"}, "transform": [{"filter": "datum.p == 'C' && datum.role == 'letter'"}], "mark": {"type": "text", "fontSize": 27, "fontWeight": "bold", "align": "left", "baseline": "alphabetic", "fill": "black"}, "encoding": {"x": {"field": "x", "type": "quantitative", "scale": {"domain": [0, -2], "nice": false, "zero": false}}, "y": {"field": "y", "type": "quantitative", "scale": {"domain": [-10, 0], "nice": false, "zero": false}}, "text": {"field": "t"}}},
 {"data": {"name": "texts"}, "transform": [{"filter": "datum.p == 'C' && datum.role == 'title'"}], "mark": {"type": "text", "fontSize": 25, "fontWeight": "bold", "align": "left", "baseline": "alphabetic", "fill": "black"}, "encoding": {"x": {"field": "x", "type": "quantitative", "scale": {"domain": [0, -2], "nice": false, "zero": false}}, "y": {"field": "y", "type": "quantitative", "scale": {"domain": [-10, 0], "nice": false, "zero": false}}, "text": {"field": "t"}}},
 {"data": {"name": "texts"}, "transform": [{"filter": "datum.p == 'C' && datum.role == 'scan'"}], "mark": {"type": "text", "fontSize": 20, "align": "left", "baseline": "alphabetic", "fill": "black"}, "encoding": {"x": {"field": "x", "type": "quantitative", "scale": {"domain": [0, -2], "nice": false, "zero": false}}, "y": {"field": "y", "type": "quantitative", "scale": {"domain": [-10, 0], "nice": false, "zero": false}}, "text": {"field": "t"}}},
 {"data": {"name": "arrows"}, "transform": [{"filter": "datum.p == 'C'"}], "mark": {"type": "rule", "color": "black", "strokeWidth": 1.5}, "encoding": {"x": {"field": "x1", "type": "quantitative", "scale": {"domain": [0, -2], "nice": false, "zero": false}}, "x2": {"field": "x2"}, "y": {"field": "y", "type": "quantitative", "scale": {"domain": [-10, 0], "nice": false, "zero": false}}}},
 {"data": {"name": "arrows"}, "transform": [{"filter": "datum.p == 'C'"}], "mark": {"type": "point", "shape": "M-1,-0.5L0,0L-1,0.5", "size": 900, "filled": false, "stroke": "black", "strokeWidth": 1.5, "opacity": 1}, "encoding": {"x": {"field": "x2", "type": "quantitative", "scale": {"domain": [0, -2], "nice": false, "zero": false}}, "y": {"field": "y", "type": "quantitative", "scale": {"domain": [-10, 0], "nice": false, "zero": false}}}},
 {"data": {"name": "curves"}, "transform": [{"filter": "datum.p == 'C'"}], "mark": {"type": "line", "strokeWidth": 2.5, "clip": true},
  "encoding": {"x": {"field": "v", "type": "quantitative", "scale": {"domain": [0, -2], "nice": false, "zero": false}, "axis": {"title": null, "labels": false, "ticks": false, "domain": false, "orient": "top"}},
   "y": {"field": "i", "type": "quantitative", "scale": {"domain": [-10, 0], "nice": false, "zero": false}, "axis": {"title": "Peak height (µA)", "titleFontSize": 21, "values": [0, -2, -4, -6, -8], "labelExpr": "(datum.value < 0 ? '-' : '') + format(abs(datum.value), '.1f')", "tickSize": 6, "tickColor": "#808080", "tickWidth": 1.5, "domainColor": "#000000", "domainWidth": 1.5, "labelPadding": 6, "titlePadding": 12}},
   "color": {"field": "s", "type": "nominal", "scale": {"domain": ["CA3", "CA3 + doxorubicin"], "range": ["#339966", "#00ff00"]}, "legend": {"title": null, "orient": "none", "legendX": 280, "legendY": 312, "direction": "horizontal", "symbolType": "stroke", "symbolSize": 1024, "symbolStrokeWidth": 3, "columnPadding": 6, "labelOffset": 3}}}}
]},
{"width": 695, "height": 362, "layer": [
 {"data": {"name": "frame"}, "transform": [{"filter": "datum.p == 'D'"}], "mark": {"type": "rule", "color": "#8c8c8c", "strokeWidth": 2}, "encoding": {"y": {"field": "top", "type": "quantitative", "scale": {"domain": [-10, 0], "nice": false, "zero": false}}}},
 {"data": {"name": "frame"}, "transform": [{"filter": "datum.p == 'D'"}], "mark": {"type": "rule", "color": "#000000", "strokeWidth": 1.5}, "encoding": {"x": {"field": "right", "type": "quantitative", "scale": {"domain": [0, -2], "nice": false, "zero": false}}}},
 {"data": {"name": "boxes"}, "transform": [{"filter": "datum.p == 'D'"}], "mark": {"type": "rect", "fill": "#000000", "opacity": 0.2, "xOffset": 3, "x2Offset": 3, "yOffset": 4, "y2Offset": 4}, "encoding": {"x": {"field": "x1", "type": "quantitative", "scale": {"domain": [0, -2], "nice": false, "zero": false}}, "x2": {"field": "x2"}, "y": {"field": "y1", "type": "quantitative", "scale": {"domain": [-10, 0], "nice": false, "zero": false}}, "y2": {"field": "y2"}}},
 {"data": {"name": "boxes"}, "transform": [{"filter": "datum.p == 'D' && datum.label == 'DOXO'"}], "mark": {"type": "rect", "fill": {"gradient": "linear", "x1": 0, "y1": 0, "x2": 0, "y2": 1, "stops": [{"offset": 0, "color": "#ffffff"}, {"offset": 0.5, "color": "#ececec"}, {"offset": 1, "color": "#c4c4c4"}]}, "stroke": "#a0a0a0", "strokeWidth": 1}, "encoding": {"x": {"field": "x1", "type": "quantitative", "scale": {"domain": [0, -2], "nice": false, "zero": false}}, "x2": {"field": "x2"}, "y": {"field": "y1", "type": "quantitative", "scale": {"domain": [-10, 0], "nice": false, "zero": false}}, "y2": {"field": "y2"}}},
 {"data": {"name": "boxes"}, "transform": [{"filter": "datum.p == 'D' && datum.label == 'CA'"}], "mark": {"type": "rect", "fill": {"gradient": "linear", "x1": 0, "y1": 0, "x2": 0, "y2": 1, "stops": [{"offset": 0, "color": "#d8f2f2"}, {"offset": 0.5, "color": "#b2dfe0"}, {"offset": 1, "color": "#88bfc1"}]}, "stroke": "#7aa9aa", "strokeWidth": 1}, "encoding": {"x": {"field": "x1", "type": "quantitative", "scale": {"domain": [0, -2], "nice": false, "zero": false}}, "x2": {"field": "x2"}, "y": {"field": "y1", "type": "quantitative", "scale": {"domain": [-10, 0], "nice": false, "zero": false}}, "y2": {"field": "y2"}}},
 {"data": {"name": "boxes"}, "transform": [{"filter": "datum.p == 'D'"}], "mark": {"type": "text", "fontSize": 19, "align": "center", "baseline": "middle", "fill": "black"}, "encoding": {"x": {"field": "xc", "type": "quantitative", "scale": {"domain": [0, -2], "nice": false, "zero": false}}, "y": {"field": "yc", "type": "quantitative", "scale": {"domain": [-10, 0], "nice": false, "zero": false}}, "text": {"field": "label"}}},
 {"data": {"name": "texts"}, "transform": [{"filter": "datum.p == 'D' && datum.role == 'letter'"}], "mark": {"type": "text", "fontSize": 27, "fontWeight": "bold", "align": "left", "baseline": "alphabetic", "fill": "black"}, "encoding": {"x": {"field": "x", "type": "quantitative", "scale": {"domain": [0, -2], "nice": false, "zero": false}}, "y": {"field": "y", "type": "quantitative", "scale": {"domain": [-10, 0], "nice": false, "zero": false}}, "text": {"field": "t"}}},
 {"data": {"name": "texts"}, "transform": [{"filter": "datum.p == 'D' && datum.role == 'title'"}], "mark": {"type": "text", "fontSize": 25, "fontWeight": "bold", "align": "left", "baseline": "alphabetic", "fill": "black"}, "encoding": {"x": {"field": "x", "type": "quantitative", "scale": {"domain": [0, -2], "nice": false, "zero": false}}, "y": {"field": "y", "type": "quantitative", "scale": {"domain": [-10, 0], "nice": false, "zero": false}}, "text": {"field": "t"}}},
 {"data": {"name": "texts"}, "transform": [{"filter": "datum.p == 'D' && datum.role == 'scan'"}], "mark": {"type": "text", "fontSize": 20, "align": "left", "baseline": "alphabetic", "fill": "black"}, "encoding": {"x": {"field": "x", "type": "quantitative", "scale": {"domain": [0, -2], "nice": false, "zero": false}}, "y": {"field": "y", "type": "quantitative", "scale": {"domain": [-10, 0], "nice": false, "zero": false}}, "text": {"field": "t"}}},
 {"data": {"name": "arrows"}, "transform": [{"filter": "datum.p == 'D'"}], "mark": {"type": "rule", "color": "black", "strokeWidth": 1.5}, "encoding": {"x": {"field": "x1", "type": "quantitative", "scale": {"domain": [0, -2], "nice": false, "zero": false}}, "x2": {"field": "x2"}, "y": {"field": "y", "type": "quantitative", "scale": {"domain": [-10, 0], "nice": false, "zero": false}}}},
 {"data": {"name": "arrows"}, "transform": [{"filter": "datum.p == 'D'"}], "mark": {"type": "point", "shape": "M-1,-0.5L0,0L-1,0.5", "size": 900, "filled": false, "stroke": "black", "strokeWidth": 1.5, "opacity": 1}, "encoding": {"x": {"field": "x2", "type": "quantitative", "scale": {"domain": [0, -2], "nice": false, "zero": false}}, "y": {"field": "y", "type": "quantitative", "scale": {"domain": [-10, 0], "nice": false, "zero": false}}}},
 {"data": {"name": "curves"}, "transform": [{"filter": "datum.p == 'D'"}], "mark": {"type": "line", "strokeWidth": 2.5, "clip": true},
  "encoding": {"x": {"field": "v", "type": "quantitative", "scale": {"domain": [0, -2], "nice": false, "zero": false}, "axis": {"title": "Potential (V)", "values": [0, -0.2, -0.4, -0.6, -0.8, -1, -1.2, -1.4, -1.6, -1.8], "labelExpr": "(datum.value < 0 ? '-' : '') + format(abs(datum.value), '.1f')", "tickSize": 7, "tickColor": "#808080", "tickWidth": 1.5, "domainColor": "#808080", "domainWidth": 2, "labelPadding": 3, "titlePadding": 13, "titleFontSize": 20}},
   "y": {"field": "i", "type": "quantitative", "scale": {"domain": [-10, 0], "nice": false, "zero": false}, "axis": {"title": "Peak height (µA)", "titleFontSize": 21, "values": [0, -2, -4, -6, -8, -10], "labelExpr": "(datum.value < 0 ? '-' : '') + format(abs(datum.value), '.1f')", "tickSize": 6, "tickColor": "#808080", "tickWidth": 1.5, "domainColor": "#000000", "domainWidth": 1.5, "labelPadding": 6, "titlePadding": 12}},
   "color": {"field": "s", "type": "nominal", "scale": {"domain": ["MT5", "MT5 + doxorubicin"], "range": ["#ff0000", "#ff9900"]}, "legend": {"title": null, "orient": "none", "legendX": 292, "legendY": 327, "direction": "horizontal", "symbolType": "stroke", "symbolSize": 1024, "symbolStrokeWidth": 3, "columnPadding": 6, "labelOffset": 3}}}}
]}
]
}
